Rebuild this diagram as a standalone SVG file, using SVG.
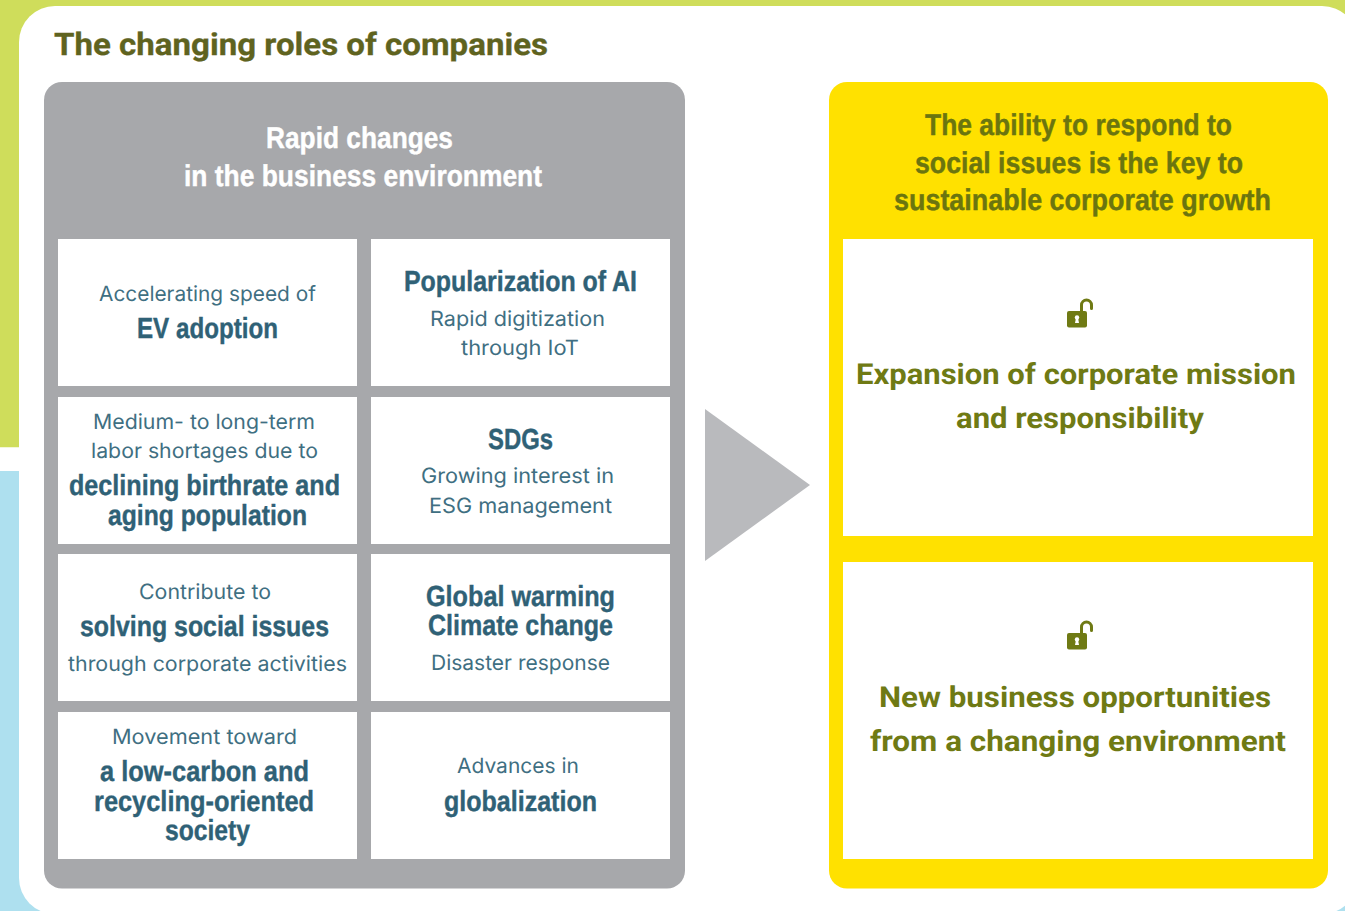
<svg xmlns="http://www.w3.org/2000/svg" xmlns:xlink="http://www.w3.org/1999/xlink" width="1345" height="911" viewBox="0 0 1345 911">
<style>
text{text-rendering:geometricPrecision}
.title{font:700 31px Roboto,"Liberation Sans",sans-serif;fill:#5f631f;stroke:#5f631f;stroke-width:.3}
.head{font:700 30px "Liberation Sans",Arial,sans-serif;fill:#fff;stroke:#fff;stroke-width:.4}
.yhead{font:700 30px "Liberation Sans",Arial,sans-serif;fill:#6b750f;stroke:#6b750f;stroke-width:.4}
.sm{font:400 21px Inter,"Liberation Sans",sans-serif;fill:#3f6f82}
.bd{font:700 29px "Liberation Sans",Arial,sans-serif;fill:#2f6176;stroke:#2f6176;stroke-width:.4}
.ol{font:700 29px Roboto,"Liberation Sans",sans-serif;fill:#6f7a14}
.cell{fill:#fff}
</style>
<defs>
<g id="lock">
<path d="M1081.500 312V305a5 5 0 0 1 10 0v3.500" fill="none" stroke="#6f7a14" stroke-width="3" stroke-linecap="round"/>
<rect x="1067" y="311" width="20" height="16.500" rx="2" fill="#6f7a14"/>
<circle cx="1077" cy="317.500" r="2.200" fill="#fff"/>
<path d="M1076 318h2l1 5h-4z" fill="#fff"/>
</g>
</defs>
<g id="background">
<rect x="0" y="0" width="1345" height="447.500" fill="#cfdd5b"/>
<rect x="0" y="447.500" width="1345" height="23.500" fill="#fff"/>
<rect x="0" y="471" width="1345" height="440" fill="#aee0ef"/>
<rect x="19" y="6" width="1339" height="908" rx="36" fill="#fff"/>
<text class="title" x="54" y="55" textLength="494" lengthAdjust="spacingAndGlyphs">The changing roles of companies</text>
</g>
<g id="panel-left">
<rect x="44" y="82" width="641" height="806.500" rx="18" fill="#a7a8ab"/>
<text class="head" x="266" y="148" textLength="187" lengthAdjust="spacingAndGlyphs">Rapid changes</text>
<text class="head" x="184" y="186" textLength="358" lengthAdjust="spacingAndGlyphs">in the business environment</text>
</g>
<g id="panel-right">
<rect x="829" y="82" width="499" height="806.500" rx="18" fill="#ffe100"/>
<text class="yhead" x="925" y="135" textLength="307" lengthAdjust="spacingAndGlyphs">The ability to respond to</text>
<text class="yhead" x="915" y="173" textLength="328" lengthAdjust="spacingAndGlyphs">social issues is the key to</text>
<text class="yhead" x="894" y="210" textLength="377" lengthAdjust="spacingAndGlyphs">sustainable corporate growth</text>
</g>
<g id="cell-ev">
<rect class="cell" x="58" y="239" width="299" height="147"/>
<text class="sm" x="99" y="301" textLength="217" lengthAdjust="spacingAndGlyphs">Accelerating speed of</text>
<text class="bd" x="137" y="338" textLength="141" lengthAdjust="spacingAndGlyphs">EV adoption</text>
</g>
<g id="cell-ai">
<rect class="cell" x="371" y="239" width="299" height="147"/>
<text class="bd" x="404" y="291" textLength="233" lengthAdjust="spacingAndGlyphs">Popularization of AI</text>
<text class="sm" x="430" y="326" textLength="175" lengthAdjust="spacingAndGlyphs">Rapid digitization</text>
<text class="sm" x="461" y="355" textLength="118" lengthAdjust="spacingAndGlyphs">through IoT</text>
</g>
<g id="cell-labor">
<rect class="cell" x="58" y="397" width="299" height="147"/>
<text class="sm" x="93" y="429" textLength="222" lengthAdjust="spacingAndGlyphs">Medium- to long-term</text>
<text class="sm" x="91" y="458" textLength="227" lengthAdjust="spacingAndGlyphs">labor shortages due to</text>
<text class="bd" x="69" y="495" textLength="271" lengthAdjust="spacingAndGlyphs">declining birthrate and</text>
<text class="bd" x="108" y="525" textLength="199" lengthAdjust="spacingAndGlyphs">aging population</text>
</g>
<g id="cell-sdgs">
<rect class="cell" x="371" y="397" width="299" height="147"/>
<text class="bd" x="488" y="449" textLength="65" lengthAdjust="spacingAndGlyphs">SDGs</text>
<text class="sm" x="421" y="483" textLength="193" lengthAdjust="spacingAndGlyphs">Growing interest in</text>
<text class="sm" x="429" y="513" textLength="183" lengthAdjust="spacingAndGlyphs">ESG management</text>
</g>
<g id="cell-social">
<rect class="cell" x="58" y="554" width="299" height="147"/>
<text class="sm" x="139" y="599" textLength="132" lengthAdjust="spacingAndGlyphs">Contribute to</text>
<text class="bd" x="80" y="636" textLength="249" lengthAdjust="spacingAndGlyphs">solving social issues</text>
<text class="sm" x="68" y="671" textLength="279" lengthAdjust="spacingAndGlyphs">through corporate activities</text>
</g>
<g id="cell-climate">
<rect class="cell" x="371" y="554" width="299" height="147"/>
<text class="bd" x="426" y="606" textLength="189" lengthAdjust="spacingAndGlyphs">Global warming</text>
<text class="bd" x="428" y="635" textLength="185" lengthAdjust="spacingAndGlyphs">Climate change</text>
<text class="sm" x="431" y="670" textLength="179" lengthAdjust="spacingAndGlyphs">Disaster response</text>
</g>
<g id="cell-lowcarbon">
<rect class="cell" x="58" y="712" width="299" height="147"/>
<text class="sm" x="112" y="744" textLength="185" lengthAdjust="spacingAndGlyphs">Movement toward</text>
<text class="bd" x="100" y="781" textLength="209" lengthAdjust="spacingAndGlyphs">a low-carbon and</text>
<text class="bd" x="94" y="811" textLength="220" lengthAdjust="spacingAndGlyphs">recycling-oriented</text>
<text class="bd" x="165" y="840" textLength="85" lengthAdjust="spacingAndGlyphs">society</text>
</g>
<g id="cell-global">
<rect class="cell" x="371" y="712" width="299" height="147"/>
<text class="sm" x="457" y="773" textLength="122" lengthAdjust="spacingAndGlyphs">Advances in</text>
<text class="bd" x="444" y="811" textLength="153" lengthAdjust="spacingAndGlyphs">globalization</text>
</g>
<g id="cell-mission">
<rect class="cell" x="843" y="239" width="470" height="297"/>
<use href="#lock" xlink:href="#lock"/>
<text class="ol" x="856" y="384" textLength="440" lengthAdjust="spacingAndGlyphs">Expansion of corporate mission</text>
<text class="ol" x="956" y="428" textLength="248" lengthAdjust="spacingAndGlyphs">and responsibility</text>
</g>
<g id="cell-opportunities">
<rect class="cell" x="843" y="562" width="470" height="297"/>
<use href="#lock" xlink:href="#lock" y="322"/>
<text class="ol" x="879" y="707" textLength="392" lengthAdjust="spacingAndGlyphs">New business opportunities</text>
<text class="ol" x="870" y="751" textLength="416" lengthAdjust="spacingAndGlyphs">from a changing environment</text>
</g>
<g id="connectors">
<polygon points="705,409 810,485 705,561" fill="#b9babd"/>
</g>
</svg>
